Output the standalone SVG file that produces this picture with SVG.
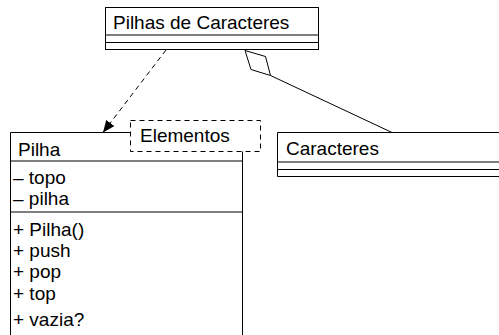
<svg xmlns="http://www.w3.org/2000/svg" width="499" height="335" viewBox="0 0 499 335">
<defs>
<style>
.box{fill:none;stroke:#000;stroke-width:1}
.ln{stroke:#000;stroke-width:1;fill:none}
.dash{stroke:#000;stroke-width:1;fill:none;stroke-dasharray:5,4}
text{font-family:"Liberation Sans",Arial,sans-serif;font-size:19px;fill:#000}
</style>
<marker id="arr" viewBox="0 0 12 10" refX="12" refY="5" markerWidth="12" markerHeight="10" markerUnits="userSpaceOnUse" orient="auto">
<path d="M0,0 L12,5 L0,10 Z" fill="#000"/>
</marker>
</defs>
<rect width="499" height="335" fill="#fff"/>
<g id="connectors">
<line class="dash" x1="166" y1="50" x2="103" y2="132.5" marker-end="url(#arr)"/>
<path class="ln" d="M245,50.5 L251,69.5 L270.5,75.5 L265.5,56.5 Z" fill="#fff"/>
<line class="ln" x1="270.5" y1="75.5" x2="392" y2="132.5"/>
</g>
<g id="pilhas-de-caracteres">
<rect class="box" x="105.5" y="7.5" width="213" height="42" fill="#fff"/>
<line class="ln" x1="105.5" y1="35" x2="318.5" y2="35"/>
<line class="ln" x1="105.5" y1="42.5" x2="318.5" y2="42.5"/>
<text x="113" y="29">Pilhas de Caracteres</text>
</g>
<g id="pilha">
<path class="ln" d="M130.5,132.5 H10.5 V340 M242.5,151.5 V340"/>
<line class="ln" x1="10.5" y1="161" x2="242.5" y2="161"/>
<line class="ln" x1="10.5" y1="212" x2="242.5" y2="212"/>
<text x="18" y="156">Pilha</text>
<text x="13" y="184">– topo</text>
<text x="13" y="205">– pilha</text>
<text x="13" y="236">+ Pilha()</text>
<text x="13" y="257">+ push</text>
<text x="13" y="278">+ pop</text>
<text x="13" y="300">+ top</text>
<text x="13" y="326">+ vazia?</text>
</g>
<g id="elementos">
<rect class="dash" x="130.5" y="120.5" width="130" height="31"/>
<text x="140" y="142">Elementos</text>
</g>
<g id="caracteres">
<path class="ln" d="M510,132.5 H277.5 V176.5 H510"/>
<line class="ln" x1="277.5" y1="162" x2="510" y2="162"/>
<line class="ln" x1="277.5" y1="169.5" x2="510" y2="169.5"/>
<text x="286" y="155">Caracteres</text>
</g>
</svg>
